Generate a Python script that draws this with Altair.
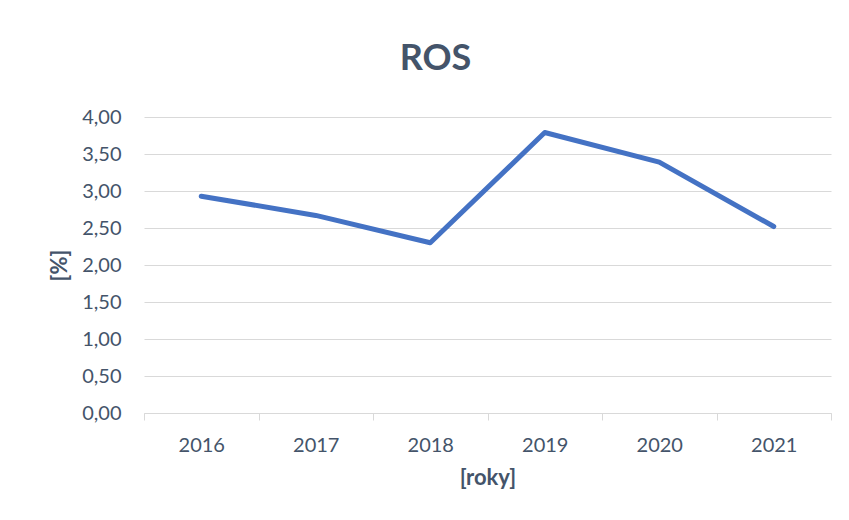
import altair as alt
import pandas as pd

years = ["2016", "2017", "2018", "2019", "2020", "2021"]
ros = [2.93, 2.67, 2.30, 3.79, 3.39, 2.52]

df = pd.DataFrame({"rok": years, "ros": ros})

font = "Lato"
txt = "#44546A"
grid = "#D9D9D9"

chart = alt.Chart(df).mark_line(
    color="#4472C4", strokeWidth=5, strokeCap="round", strokeJoin="round"
).encode(
    x=alt.X("rok:N", sort=years, title="[roky]",
            scale=alt.Scale(paddingInner=0, paddingOuter=0),
            axis=alt.Axis(labelAngle=0, tickBand="extent", tickSize=7,
                          tickColor=grid, domainColor=grid, grid=False,
                          labelPadding=15, titlePadding=12)),
    y=alt.Y("ros:Q", title="[%]",
            scale=alt.Scale(domain=[0, 4]),
            axis=alt.Axis(values=[0, 0.5, 1, 1.5, 2, 2.5, 3, 3.5, 4],
                          labelExpr="replace(format(datum.value, '.2f'), '.', ',')",
                          domain=False, ticks=False, gridColor=grid,
                          labelPadding=23, titlePadding=10)),
).properties(
    width=687, height=296,
    title=alt.TitleParams("ROS", fontSize=36, font=font, fontWeight="bold",
                          color=txt, anchor="middle", dx=-52, offset=29),
    autosize=alt.AutoSizeParams(type="none"),
    padding={"left": 136, "top": 109, "right": 10, "bottom": 90},
).configure_view(stroke=None).configure_axis(
    labelFont=font, titleFont=font, labelFontSize=20, titleFontSize=22,
    labelColor=txt, titleColor=txt, titleFontWeight="bold",
)

chart.save("out.html", embed_options={"renderer": "svg", "actions": False})
